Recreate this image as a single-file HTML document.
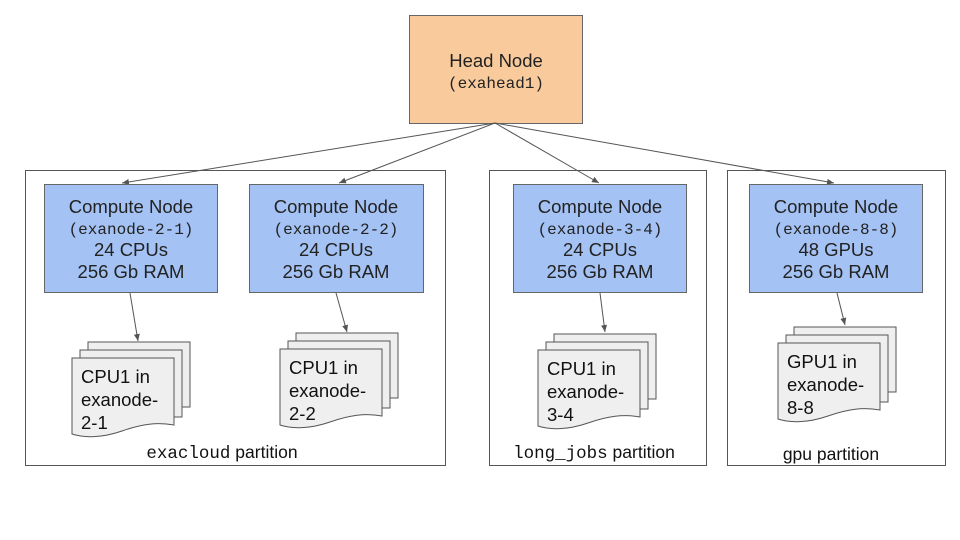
<!DOCTYPE html>
<html><head><meta charset="utf-8"><style>
html,body{margin:0;padding:0;background:#fff;}
svg{display:block;}
.s{font-family:"Liberation Sans",Arial,sans-serif;}
.m{font-family:"Liberation Mono","DejaVu Sans Mono",monospace;}
</style></head><body>
<svg width="960" height="540" viewBox="0 0 960 540" xmlns="http://www.w3.org/2000/svg">
<defs>
<marker id="a" markerWidth="8" markerHeight="8" refX="7" refY="4" orient="auto" markerUnits="userSpaceOnUse">
<path d="M0,1 L7,4 L0,7 Z" fill="#555"/>
</marker>
<g id="doc">
<rect x="16" y="-16" width="102" height="65" fill="#efefef" stroke="#555" stroke-width="1"/>
<rect x="8" y="-8" width="102" height="67" fill="#efefef" stroke="#555" stroke-width="1"/>
<path d="M0,0 H102 V67 C85,64 70,66 50,73 C30,80 12,80 0,76 Z" fill="#efefef" stroke="#555" stroke-width="1"/>
</g>
</defs>

<rect x="25.5" y="170.5" width="420" height="295" fill="none" stroke="#555"/>
<rect x="489.5" y="170.5" width="217" height="295" fill="none" stroke="#555"/>
<rect x="727.5" y="170.5" width="218" height="295" fill="none" stroke="#555"/>

<rect x="409.5" y="15.5" width="173" height="108" fill="#f9cb9c" stroke="#666"/>
<text class="s" x="496" y="67" font-size="18.5" text-anchor="middle" fill="#222">Head Node</text>
<text class="m" x="496" y="88" font-size="16" text-anchor="middle" fill="#222">(exahead1)</text>

<g stroke="#555" stroke-width="1" marker-end="url(#a)">
<line x1="495" y1="123" x2="122" y2="183"/>
<line x1="495" y1="123" x2="339" y2="183"/>
<line x1="495" y1="123" x2="599" y2="183"/>
<line x1="495" y1="123" x2="834" y2="183"/>
</g>

<g fill="#a4c2f4" stroke="#666">
<rect x="44.5" y="184.5" width="173" height="108"/>
<rect x="249.5" y="184.5" width="174" height="108"/>
<rect x="513.5" y="184.5" width="173" height="108"/>
<rect x="749.5" y="184.5" width="173" height="108"/>
</g>
<g fill="#222" font-size="18.5" text-anchor="middle">
<text class="s" x="131" y="213">Compute Node</text>
<text class="m" x="131" y="234" font-size="16">(exanode-2-1)</text>
<text class="s" x="131" y="256">24 CPUs</text>
<text class="s" x="131" y="278">256 Gb RAM</text>

<text class="s" x="336" y="213">Compute Node</text>
<text class="m" x="336" y="234" font-size="16">(exanode-2-2)</text>
<text class="s" x="336" y="256">24 CPUs</text>
<text class="s" x="336" y="278">256 Gb RAM</text>

<text class="s" x="600" y="213">Compute Node</text>
<text class="m" x="600" y="234" font-size="16">(exanode-3-4)</text>
<text class="s" x="600" y="256">24 CPUs</text>
<text class="s" x="600" y="278">256 Gb RAM</text>

<text class="s" x="836" y="213">Compute Node</text>
<text class="m" x="836" y="234" font-size="16">(exanode-8-8)</text>
<text class="s" x="836" y="256">48 GPUs</text>
<text class="s" x="836" y="278">256 Gb RAM</text>
</g>

<g stroke="#555" stroke-width="1" marker-end="url(#a)">
<line x1="130" y1="293" x2="138" y2="341"/>
<line x1="336" y1="293" x2="347" y2="332"/>
<line x1="600" y1="293" x2="605" y2="332"/>
<line x1="837" y1="293" x2="845" y2="325"/>
</g>

<use href="#doc" x="72" y="358"/>
<use href="#doc" x="280" y="349"/>
<use href="#doc" x="538" y="350"/>
<use href="#doc" x="778" y="343"/>

<g class="s" font-size="18.5" fill="#111">
<text x="81" y="383">CPU1 in</text><text x="81" y="406">exanode-</text><text x="81" y="429">2-1</text>
<text x="289" y="374">CPU1 in</text><text x="289" y="397">exanode-</text><text x="289" y="420">2-2</text>
<text x="547" y="375">CPU1 in</text><text x="547" y="398">exanode-</text><text x="547" y="421">3-4</text>
<text x="787" y="368">GPU1 in</text><text x="787" y="391">exanode-</text><text x="787" y="414">8-8</text>
</g>

<text x="222" y="458" font-size="17.5" text-anchor="middle" fill="#111"><tspan class="m">exacloud</tspan><tspan class="s"> partition</tspan></text>
<text x="594" y="458" font-size="17.5" text-anchor="middle" fill="#111"><tspan class="m">long_jobs</tspan><tspan class="s"> partition</tspan></text>
<text class="s" x="831" y="460" font-size="17.5" text-anchor="middle" fill="#111">gpu partition</text>
</svg>
</body></html>
